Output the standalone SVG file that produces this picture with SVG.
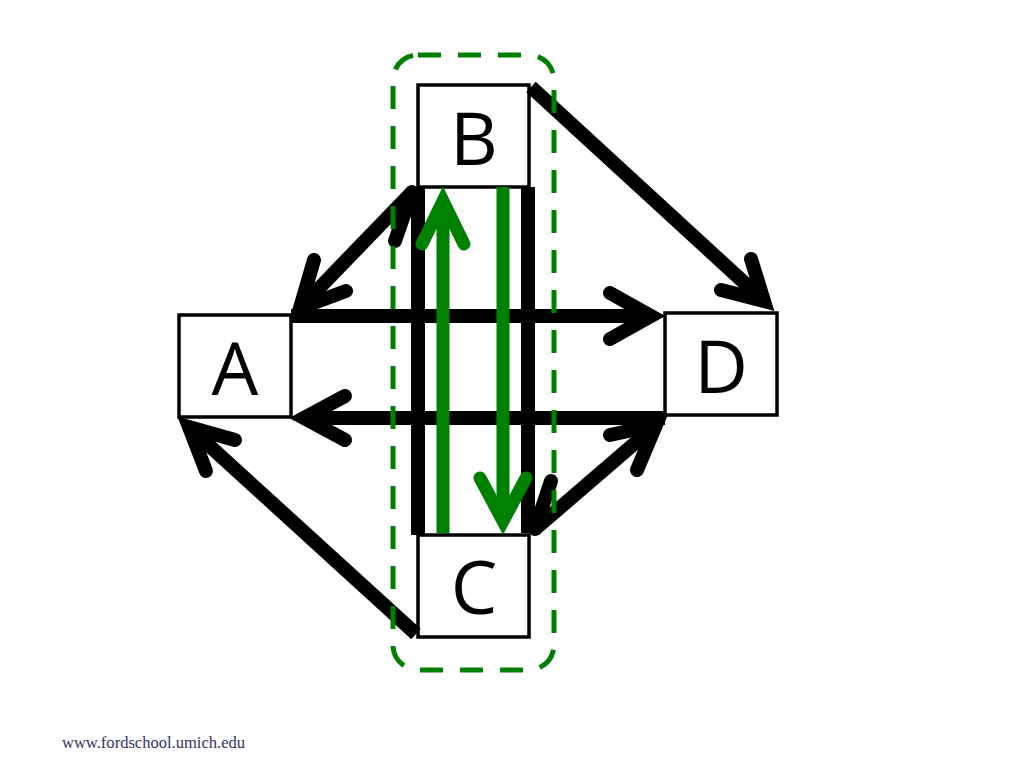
<svg xmlns="http://www.w3.org/2000/svg" width="1024" height="768" viewBox="0 0 1024 768">
<style>
.box{fill:#fff;stroke:#000;stroke-width:3.5}
.lbl{font-family:"Open Sans","Noto Sans","Liberation Sans",sans-serif;font-size:74px;fill:#000;text-anchor:middle}
.ln{fill:none;stroke:#000;stroke-width:14;stroke-linecap:butt}
.hd{fill:none;stroke:#000;stroke-width:14;stroke-linecap:round;stroke-linejoin:miter}
.gln{fill:none;stroke:#008000;stroke-width:13;stroke-linecap:butt}
.ghd{fill:none;stroke:#008000;stroke-width:13;stroke-linecap:round;stroke-linejoin:miter}
.grp{fill:none;stroke:#008000;stroke-width:5;stroke-dasharray:23 17}
.foot{font-family:"Liberation Serif",serif;font-size:16px;fill:#333366}
</style>
<rect width="1024" height="768" fill="#fff"/>
<g id="node-A"><rect class="box" x="179" y="315" width="112" height="102"/><text class="lbl" x="235" y="395">A</text></g>
<g id="node-B"><rect class="box" x="418" y="85" width="111" height="102"/><text class="lbl" x="474" y="165">B</text></g>
<g id="node-C"><rect class="box" x="418" y="535" width="111" height="102"/><text class="lbl" x="474" y="614">C</text></g>
<g id="node-D"><rect class="box" x="665" y="313" width="112" height="102"/><text class="lbl" x="721" y="393">D</text></g>
<g id="connectors">
  <!-- B -> D -->
  <path class="ln" d="M531 87 L762 299"/>
  <path class="hd" d="M751 259 L764 301 L721 290"/>
  <!-- A -> D (top) -->
  <path class="ln" d="M291 316 L649 316"/>
  <path class="hd" d="M610 293 L651 316 L610 339"/>
  <!-- D -> A (bottom) -->
  <path class="ln" d="M665 418 L306 418"/>
  <path class="hd" d="M345 396 L304 418 L345 440"/>
  <!-- C -> A -->
  <path class="ln" d="M416 634 L191 429"/>
  <path class="hd" d="M206 471 L189 427 L235 440"/>
  <!-- A <-> B -->
  <path class="ln" d="M413 191 L300 308"/>
  <path class="hd" d="M314 260 L300 308 L346 291"/>
  <path class="hd" d="M395 241 L412 192"/>
  <!-- C <-> D -->
  <path class="ln" d="M534 530 L656 425"/>
  <path class="hd" d="M637 470 L656 425 L610 435"/>
  <path class="hd" d="M551 481 L535 529"/>
  <!-- B - C verticals -->
  <path class="ln" d="M418 187 L418 535"/>
  <path class="ln" d="M528 187 L528 533"/>
  <!-- green C -> B -->
  <path class="gln" d="M443 533 L443 206"/>
  <path class="ghd" d="M422 244 L443 201 L464 244"/>
  <!-- green B -> C -->
  <path class="gln" d="M503 187 L503 516"/>
  <path class="ghd" d="M480 478 L503 521 L526 478"/>
</g>
<g id="group-BC"><rect class="grp" x="393" y="55" width="161" height="615" rx="25"/></g>
<text class="foot" x="62" y="748" textLength="183" lengthAdjust="spacingAndGlyphs">www.fordschool.umich.edu</text>
</svg>
